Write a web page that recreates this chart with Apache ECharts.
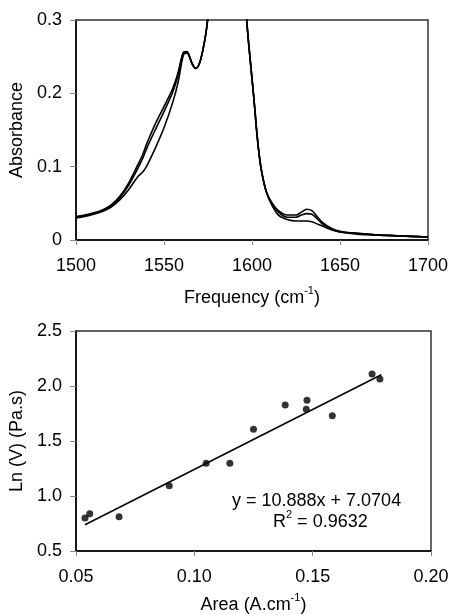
<!DOCTYPE html>
<html>
<head>
<meta charset="utf-8">
<script src="https://cdn.jsdelivr.net/npm/echarts@6/dist/echarts.min.js"></script>
<style>html,body{margin:0;padding:0;background:#fff}#c{width:453px;height:615px}</style>
</head>
<body>
<div id="c"></div>
<script>
// ---- Top chart: IR spectra ----
var freq = [1500,1505,1510,1515,1520,1525,1530,1535,1538,1540,1545,1550,1555,1558,1561,1563,1566,1568,1570,1572,1574,1576,1580,1585,1590,1595,1597,1599,1601,1603,1605,1608,1611,1615,1620,1625,1628,1631,1634,1637,1640,1645,1650,1660,1670,1680,1690,1700];
var specA = [0.032,0.034,0.037,0.041,0.048,0.060,0.078,0.102,0.117,0.130,0.158,0.182,0.207,0.228,0.256,0.257,0.241,0.234,0.240,0.258,0.285,0.330,0.45,0.60,0.60,0.40,0.30,0.245,0.195,0.14,0.10,0.067,0.052,0.040,0.034,0.034,0.038,0.042,0.040,0.032,0.024,0.016,0.012,0.009,0.007,0.006,0.005,0.004];
var specB = [0.031,0.033,0.036,0.040,0.047,0.058,0.075,0.097,0.112,0.124,0.150,0.175,0.202,0.225,0.255,0.256,0.240,0.234,0.240,0.258,0.285,0.330,0.45,0.60,0.60,0.40,0.30,0.245,0.195,0.14,0.10,0.067,0.051,0.038,0.031,0.031,0.034,0.036,0.035,0.029,0.022,0.015,0.011,0.009,0.007,0.006,0.005,0.004];
var specC = [0.030,0.032,0.035,0.039,0.045,0.055,0.069,0.086,0.093,0.100,0.125,0.153,0.188,0.215,0.252,0.255,0.240,0.234,0.240,0.258,0.285,0.330,0.45,0.60,0.60,0.40,0.30,0.245,0.195,0.14,0.10,0.066,0.049,0.034,0.028,0.026,0.026,0.026,0.025,0.022,0.019,0.014,0.011,0.008,0.007,0.006,0.005,0.004];

// ---- Bottom chart: Ln(V) vs Area ----
var area = [0.0538,0.0558,0.0682,0.0894,0.1050,0.1150,0.1250,0.1384,0.1476,0.1473,0.1583,0.1751,0.1784];
var lnV  = [0.800,0.839,0.812,1.094,1.297,1.297,1.606,1.827,1.870,1.788,1.730,2.109,2.064];
var trendSlope = 10.888;
var trendIntercept = 0.153;
var trendX = [0.0538, 0.1790];
var eqText = 'y = 10.888x + 7.0704';
var r2Text = 'R{sup|2} = 0.9632';

var FONT = 'Liberation Sans, Arial, sans-serif';
var chart = echarts.init(document.getElementById('c'));

function pairs(xs, ys){ return xs.map(function(x,i){ return [x, ys[i]]; }); }
var trendData = trendX.map(function(x){ return [x, trendSlope*x + trendIntercept]; });

var lineStyle = {color:'#000', width:1.6};
var axisLbl = {color:'#000', fontSize:18, fontFamily:FONT};
var nameStyle = {color:'#000', fontSize:18, fontFamily:FONT, lineHeight:26,
  rich:{sup:{fontSize:11, fontFamily:FONT, color:'#000', verticalAlign:'top'}}};
var nameStyleY = {color:'#000', fontSize:18, fontFamily:FONT};

chart.setOption({
  animation:false,
  backgroundColor:'#fff',
  grid:[
    {left:76, right:25, top:20, bottom:375, show:true, borderColor:'#333', borderWidth:1.5, containLabel:false, outerBoundsMode:'none'},
    {left:76, right:22, top:331, bottom:64, show:true, borderColor:'#333', borderWidth:1.5, containLabel:false, outerBoundsMode:'none'}
  ],
  xAxis:[
    {gridIndex:0, type:'value', min:1500, max:1700, interval:50,
     axisLine:{show:true, onZero:false, lineStyle:{color:'#000', width:1.5}},
     axisTick:{show:true, length:5, lineStyle:{color:'#888'}},
     axisLabel:Object.assign({margin:17, formatter:function(v){return String(v);}}, axisLbl),
     splitLine:{show:false},
     name:'Frequency (cm{sup|-1})', nameLocation:'middle', nameGap:45, nameTextStyle:nameStyle},
    {gridIndex:1, type:'value', min:0.05, max:0.20, interval:0.05,
     axisLine:{show:true, onZero:false, lineStyle:{color:'#000', width:1.5}},
     axisTick:{show:true, length:5, lineStyle:{color:'#888'}},
     axisLabel:Object.assign({margin:17, formatter:function(v){return v.toFixed(2);}}, axisLbl),
     splitLine:{show:false},
     name:'Area (A.cm{sup|-1})', nameLocation:'middle', nameGap:41, nameTextStyle:nameStyle}
  ],
  yAxis:[
    {gridIndex:0, type:'value', min:0, max:0.3, interval:0.1,
     axisLine:{show:true, onZero:false, lineStyle:{color:'#000', width:1.5}},
     axisTick:{show:true, length:6, lineStyle:{color:'#888'}},
     axisLabel:Object.assign({margin:14, formatter:function(v){return v===0?'0':v.toFixed(1);}}, axisLbl),
     splitLine:{show:false},
     name:'Absorbance', nameLocation:'middle', nameGap:50, nameTextStyle:nameStyleY},
    {gridIndex:1, type:'value', min:0.5, max:2.5, interval:0.5,
     axisLine:{show:true, onZero:false, lineStyle:{color:'#000', width:1.5}},
     axisTick:{show:true, length:6, lineStyle:{color:'#888'}},
     axisLabel:Object.assign({margin:14, formatter:function(v){return v.toFixed(1);}}, axisLbl),
     splitLine:{show:false},
     name:'Ln (V) (Pa.s)', nameLocation:'middle', nameGap:50, nameTextStyle:nameStyleY}
  ],
  series:[
    {type:'line', xAxisIndex:0, yAxisIndex:0, data:pairs(freq, specA), showSymbol:false, smooth:0.3, clip:true, lineStyle:lineStyle},
    {type:'line', xAxisIndex:0, yAxisIndex:0, data:pairs(freq, specB), showSymbol:false, smooth:0.3, clip:true, lineStyle:lineStyle},
    {type:'line', xAxisIndex:0, yAxisIndex:0, data:pairs(freq, specC), showSymbol:false, smooth:0.3, clip:true, lineStyle:lineStyle},
    {type:'line', xAxisIndex:1, yAxisIndex:1, data:trendData, showSymbol:false, lineStyle:{color:'#000', width:1.5}},
    {type:'scatter', xAxisIndex:1, yAxisIndex:1, data:pairs(area, lnV), symbol:'circle', symbolSize:7, itemStyle:{color:'#000'}}
  ],
  graphic:[
    {type:'text', left:232, top:492, style:{text:eqText, font:'18px '+FONT, fill:'#000'}},
    {type:'text', left:273, top:509, style:{text:r2Text, font:'18px '+FONT, fill:'#000', lineHeight:26,
      rich:{sup:{fontSize:11, fontFamily:FONT, fill:'#000', verticalAlign:'top'}}}}
  ]
});
</script>
</body>
</html>
